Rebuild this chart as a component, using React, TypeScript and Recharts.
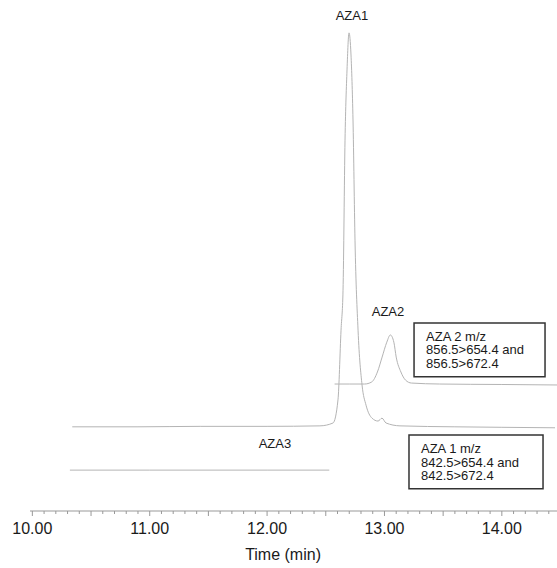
import {
  LineChart,
  Line,
  XAxis,
  YAxis,
  ReferenceArea,
  ReferenceDot,
} from "recharts";

// AZA1 trace (m/z 842.5>654.4 and 842.5>672.4)
const aza1Time = [
  10.34, 10.9, 11.43, 12.0, 12.45, 12.562, 12.604, 12.63, 12.647, 12.664,
  12.681, 12.698, 12.715, 12.732, 12.749, 12.775, 12.809, 12.843, 12.894,
  12.945, 12.979, 13.013, 13.132, 13.6, 14.0, 14.453,
];
const aza1Signal = [
  17.5, 17.5, 17.6, 17.6, 17.7, 18.3, 23.1, 37.6, 45.9, 77.1, 91.7, 99.4,
  94.8, 81.3, 56.3, 37.6, 26.2, 22.0, 19.3, 18.7, 19.3, 18.3, 17.7, 17.5,
  17.4, 17.3,
];

// AZA2 trace (m/z 856.5>654.4 and 856.5>672.4)
const aza2Time = [
  12.575, 12.7, 12.83, 12.89, 12.94, 12.98, 13.02, 13.05, 13.08, 13.1, 13.14,
  13.18, 13.23, 13.47, 14.0, 14.47,
];
const aza2Signal = [
  26.4, 26.4, 26.4, 26.8, 28.9, 32.0, 35.1, 36.6, 35.1, 32.0, 28.9, 27.2,
  26.6, 26.4, 26.3, 26.2,
];

// AZA3 trace (flat)
const aza3Time = [10.32, 11.0, 12.0, 12.53];
const aza3Signal = [8.5, 8.5, 8.5, 8.5];

const majorTicks = [10, 11, 12, 13, 14];
const minorTicks = Array.from({ length: 45 }, (_, i) => +(10 + i * 0.1).toFixed(1));

const box2Lines = ["AZA 2 m/z", "856.5>654.4 and", "856.5>672.4"];
const box1Lines = ["AZA 1 m/z", "842.5>654.4 and", "842.5>672.4"];

const font = "'Liberation Sans', Arial, Helvetica, sans-serif";
const traceColor = "#b4b4b4";

const zip = (t: number[], s: number[]) => t.map((x, i) => ({ t: x, v: s[i] }));

const TimeTick = (props: any) => {
  const { x, y, payload } = props;
  const val = payload.value as number;
  const isMajor = majorTicks.some((m) => Math.abs(m - val) < 1e-6);
  const isHalf = Math.abs(val * 2 - Math.round(val * 2)) < 1e-6;
  return (
    <g>
      <line x1={x} x2={x} y1={y} y2={y + (isHalf ? 5 : 3)} stroke="#999" />
      {isMajor && (
        <text
          x={x}
          y={y + 17}
          textAnchor="middle"
          dominantBaseline="central"
          fontSize={16}
          fontFamily={font}
          fill="#1a1a1a"
        >
          {val.toFixed(2)}
        </text>
      )}
    </g>
  );
};

const BoxLabel = (props: any) => {
  const { viewBox, lines } = props;
  if (!viewBox) return null;
  return (
    <g>
      {lines.map((l: string, i: number) => (
        <text
          key={i}
          x={viewBox.x + 12}
          y={viewBox.y + 13.5 + i * 13.5}
          dominantBaseline="central"
          fontSize={13}
          fontFamily={font}
          fill="#1a1a1a"
        >
          {l}
        </text>
      ))}
    </g>
  );
};

const labelStyle = { fontSize: 13, fontFamily: font, fill: "#1a1a1a" };

export default function App() {
  return (
    <div style={{ position: "absolute", left: 0, top: 0 }}>
      <LineChart
        width={557}
        height={568}
        margin={{ top: 30, right: 0, left: 30, bottom: 0 }}
      >
        <XAxis
          type="number"
          dataKey="t"
          domain={[9.98, 14.47]}
          allowDataOverflow
          ticks={minorTicks}
          interval={0}
          height={57}
          tickSize={0}
          tickMargin={0}
          tickLine={false}
          axisLine={{ stroke: "#999" }}
          tick={<TimeTick />}
        />
        <YAxis type="number" domain={[0, 100]} allowDataOverflow hide />
        <Line
          data={zip(aza1Time, aza1Signal)}
          dataKey="v"
          type="monotone"
          stroke={traceColor}
          strokeWidth={1}
          dot={false}
          isAnimationActive={false}
        />
        <Line
          data={zip(aza2Time, aza2Signal)}
          dataKey="v"
          type="monotone"
          stroke={traceColor}
          strokeWidth={1}
          dot={false}
          isAnimationActive={false}
        />
        <Line
          data={zip(aza3Time, aza3Signal)}
          dataKey="v"
          type="linear"
          stroke={traceColor}
          strokeWidth={1}
          dot={false}
          isAnimationActive={false}
        />
        <ReferenceArea
          x1={13.252}
          x2={14.368}
          y1={27.9}
          y2={39.1}
          fill="none"
          stroke="#333"
          strokeWidth={1.5}
          fillOpacity={0}
          ifOverflow="visible"
          label={<BoxLabel lines={box2Lines} />}
        />
        <ReferenceArea
          x1={13.209}
          x2={14.351}
          y1={4.6}
          y2={15.8}
          fill="none"
          stroke="#333"
          strokeWidth={1.5}
          fillOpacity={0}
          ifOverflow="visible"
          label={<BoxLabel lines={box1Lines} />}
        />
        <ReferenceDot
          x={12.723}
          y={103.1}
          r={0}
          fill="none"
          stroke="none"
          ifOverflow="visible"
          label={{ value: "AZA1", position: "center", ...labelStyle }}
        />
        <ReferenceDot
          x={13.03}
          y={41.4}
          r={0}
          fill="none"
          stroke="none"
          ifOverflow="visible"
          label={{ value: "AZA2", position: "center", ...labelStyle }}
        />
        <ReferenceDot
          x={12.067}
          y={14.1}
          r={0}
          fill="none"
          stroke="none"
          ifOverflow="visible"
          label={{ value: "AZA3", position: "center", ...labelStyle }}
        />
        <ReferenceDot
          x={12.136}
          y={-9.1}
          r={0}
          fill="none"
          stroke="none"
          ifOverflow="visible"
          label={{ value: "Time (min)", position: "center", ...labelStyle, fontSize: 16 }}
        />
      </LineChart>
    </div>
  );
}
